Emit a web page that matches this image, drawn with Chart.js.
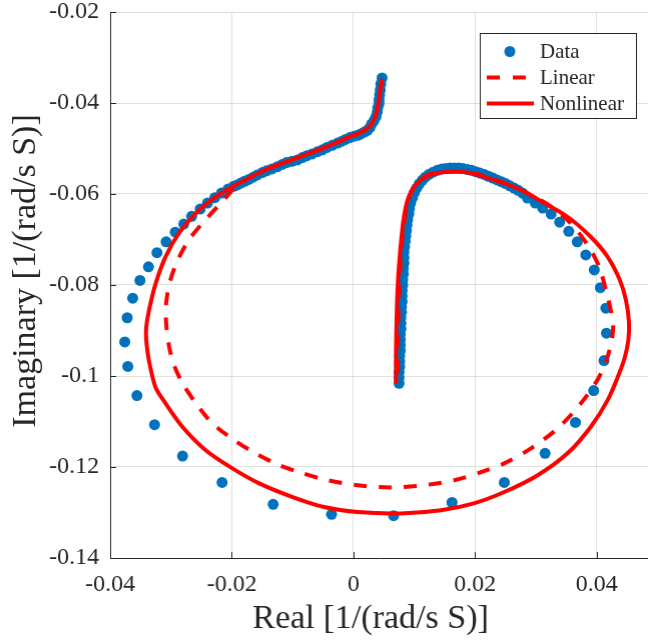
<!DOCTYPE html>
<html>
<head>
<meta charset="utf-8">
<script src="https://cdn.jsdelivr.net/npm/chart.js@4.4.0/dist/chart.umd.min.js"></script>
<style>
html, body { margin: 0; padding: 0; background: #fff; overflow: hidden; }
#wrap { width: 648px; height: 641px; position: relative; }
</style>
</head>
<body>
<div id="wrap"><canvas id="grafica"></canvas></div>
<script>
const xTicks = [-0.04, -0.02, 0, 0.02, 0.04];
const yTicks = [-0.14, -0.12, -0.1, -0.08, -0.06, -0.04, -0.02];

// measured data: vertical branch, hump, sparse loop, S-curve
const dataReal = [
    0.0075, 0.0075, 0.0075, 0.0076, 0.0076, 0.0076, 0.0077, 0.0077, 0.0077, 0.0077,
    0.0078, 0.0078, 0.0078, 0.0079, 0.0079, 0.0080, 0.0080, 0.0080, 0.0081, 0.0081,
    0.0082, 0.0082, 0.0083, 0.0083, 0.0083, 0.0084, 0.0085, 0.0086, 0.0087, 0.0088,
    0.0089, 0.0091, 0.0092, 0.0094, 0.0097, 0.0100, 0.0104, 0.0108, 0.0113, 0.0118,
    0.0124, 0.0131, 0.0138, 0.0145, 0.0152, 0.0159, 0.0166, 0.0173, 0.0180, 0.0187,
    0.0194, 0.0201, 0.0208, 0.0215, 0.0222, 0.0229, 0.0236, 0.0243, 0.0250, 0.0257,
    0.0264, 0.0271, 0.0278,
    0.0286, 0.0299, 0.0311, 0.0325, 0.0339, 0.0354, 0.0368, 0.0382, 0.0396, 0.0406,
    0.0415, 0.0416, 0.0412, 0.0395, 0.0365, 0.0315, 0.0248, 0.0162, 0.0066, -0.0036,
    -0.0132, -0.0216, -0.0281, -0.0327, -0.0356, -0.0371, -0.0376, -0.0372, -0.0363, -0.0351,
    -0.0337, -0.0323, -0.0308, -0.0293, -0.0279, -0.0266, -0.0252, -0.0240, -0.0228, -0.0217,
    -0.0206,
    -0.0197, -0.0191, -0.0185, -0.0179, -0.0172, -0.0165, -0.0158, -0.0150, -0.0143, -0.0134,
    -0.0125, -0.0117, -0.0110, -0.0101, -0.0092, -0.0084, -0.0077, -0.0068, -0.0059, -0.0051,
    -0.0044, -0.0035, -0.0026, -0.0019, -0.0013, -0.0006, 0.0001, 0.0007, 0.0012, 0.0018,
    0.0023, 0.0027, 0.0030, 0.0034, 0.0037, 0.0039, 0.0040, 0.0042, 0.0042, 0.0043,
    0.0044, 0.0045, 0.0047
];
const dataImag = [
    -0.1016, -0.1004, -0.0992, -0.0980, -0.0968, -0.0956, -0.0944, -0.0932, -0.0920, -0.0908,
    -0.0896, -0.0884, -0.0872, -0.0860, -0.0848, -0.0836, -0.0824, -0.0812, -0.0800, -0.0788,
    -0.0776, -0.0764, -0.0752, -0.0740, -0.0728, -0.0716, -0.0704, -0.0692, -0.0680, -0.0668,
    -0.0656, -0.0644, -0.0632, -0.0620, -0.0608, -0.0597, -0.0587, -0.0578, -0.0570, -0.0563,
    -0.0557, -0.0552, -0.0548, -0.0545, -0.0544, -0.0543, -0.0543, -0.0543, -0.0544, -0.0546,
    -0.0548, -0.0551, -0.0554, -0.0557, -0.0561, -0.0565, -0.0569, -0.0573, -0.0577, -0.0582,
    -0.0587, -0.0592, -0.0598,
    -0.0609, -0.0620, -0.0631, -0.0644, -0.0662, -0.0682, -0.0705, -0.0734, -0.0767, -0.0806,
    -0.0851, -0.0906, -0.0966, -0.1032, -0.1102, -0.1170, -0.1234, -0.1278, -0.1307, -0.1304,
    -0.1282, -0.1234, -0.1176, -0.1107, -0.1043, -0.0979, -0.0925, -0.0872, -0.0829, -0.0790,
    -0.0760, -0.0729, -0.0705, -0.0684, -0.0666, -0.0649, -0.0633, -0.0620, -0.0608, -0.0598,
    -0.0589,
    -0.0583, -0.0580, -0.0576, -0.0572, -0.0568, -0.0563, -0.0558, -0.0553, -0.0549, -0.0545,
    -0.0540, -0.0535, -0.0531, -0.0528, -0.0525, -0.0520, -0.0516, -0.0512, -0.0507, -0.0503,
    -0.0498, -0.0493, -0.0488, -0.0484, -0.0480, -0.0476, -0.0473, -0.0471, -0.0468, -0.0464,
    -0.0460, -0.0454, -0.0446, -0.0438, -0.0430, -0.0420, -0.0410, -0.0401, -0.0393, -0.0382,
    -0.0371, -0.0358, -0.0345
];

const linearReal = [
    0.0047, 0.0044, 0.0042, 0.0039, 0.0035, 0.0029, 0.0019, 0.0007, -0.0006, -0.0021,
    -0.0037, -0.0057, -0.0077, -0.0097, -0.0116, -0.0136, -0.0156, -0.0176,
    -0.0190, -0.0212, -0.0240, -0.0268, -0.0287, -0.0301, -0.0308, -0.0308, -0.0303, -0.0295,
    -0.0281, -0.0259, -0.0232, -0.0196, -0.0161, -0.0122, -0.0088, -0.0043, 0.0007, 0.0061,
    0.0116, 0.0166, 0.0206, 0.0248, 0.0292, 0.0336, 0.0374, 0.0401, 0.0415, 0.0423,
    0.0427, 0.0424, 0.0418, 0.0404, 0.0385, 0.0357, 0.0325, 0.0286, 0.0242, 0.0193,
    0.0155, 0.0122, 0.0100, 0.0089, 0.0081, 0.0077, 0.0075, 0.0073, 0.0073
];
const linearImag = [
    -0.0347, -0.0371, -0.0393, -0.0415, -0.0432, -0.0448, -0.0459, -0.0468, -0.0474, -0.0483,
    -0.0492, -0.0503, -0.0513, -0.0523, -0.0532, -0.0542, -0.0554, -0.0568,
    -0.0578, -0.0611, -0.0652, -0.0696, -0.0740, -0.0789, -0.0840, -0.0884, -0.0936, -0.0976,
    -0.1016, -0.1060, -0.1104, -0.1141, -0.1170, -0.1196, -0.1212, -0.1229, -0.1240, -0.1245,
    -0.1240, -0.1229, -0.1213, -0.1192, -0.1159, -0.1115, -0.1060, -0.1009, -0.0969, -0.0932,
    -0.0894, -0.0861, -0.0826, -0.0760, -0.0712, -0.0664, -0.0628, -0.0598, -0.0573, -0.0553,
    -0.0551, -0.0558, -0.0583, -0.0620, -0.0686, -0.0760, -0.0833, -0.0906, -0.1016
];

const nonlinearReal = [
    0.0047, 0.0044, 0.0042, 0.0039, 0.0035, 0.0029, 0.0019, 0.0007, -0.0006, -0.0021,
    -0.0037, -0.0057, -0.0077, -0.0097, -0.0116, -0.0136, -0.0156, -0.0176, -0.0199, -0.0227,
    -0.0259, -0.0287, -0.0309, -0.0325, -0.0336, -0.0341, -0.0339, -0.0333, -0.0325, -0.0309,
    -0.0281, -0.0243, -0.0199, -0.0155, -0.0100, -0.0048, 0.0007, 0.0078, 0.0144, 0.0198,
    0.0248, 0.0303, 0.0352, 0.0390, 0.0418, 0.0437, 0.0446, 0.0452, 0.0453, 0.0448,
    0.0438, 0.0418, 0.0390, 0.0352, 0.0314, 0.0275, 0.0231, 0.0188, 0.0155, 0.0127,
    0.0105, 0.0091, 0.0083, 0.0077, 0.0073, 0.0071, 0.0070, 0.0070
];
const nonlinearImag = [
    -0.0347, -0.0371, -0.0393, -0.0415, -0.0432, -0.0448, -0.0459, -0.0468, -0.0474, -0.0483,
    -0.0492, -0.0503, -0.0513, -0.0523, -0.0532, -0.0542, -0.0554, -0.0568, -0.0584, -0.0607,
    -0.0642, -0.0686, -0.0738, -0.0796, -0.0855, -0.0899, -0.0943, -0.0987, -0.1026, -0.1060,
    -0.1112, -0.1163, -0.1203, -0.1236, -0.1266, -0.1288, -0.1299, -0.1302, -0.1295, -0.1280,
    -0.1255, -0.1218, -0.1170, -0.1112, -0.1053, -0.0994, -0.0960, -0.0921, -0.0881, -0.0833,
    -0.0789, -0.0738, -0.0694, -0.0650, -0.0620, -0.0591, -0.0569, -0.0553, -0.0551, -0.0558,
    -0.0576, -0.0606, -0.0650, -0.0723, -0.0796, -0.0870, -0.0943, -0.1016
];

const toPoints = (xs, ys) => xs.map((x, i) => ({ x: x, y: ys[i] }));

const axisColor = "#262626";
const gridColor = "rgba(0,0,0,0.12)";
const serif = '"Liberation Serif", "Times New Roman", serif';

function formatTick(v) {
    return Number(Number(v).toFixed(2)).toString();
}

const extras = {
    id: "extras",
    beforeDatasetsDraw(chart) {
        const ctx = chart.ctx;
        const a = chart.chartArea;
        const xs = chart.scales.x;
        const ys = chart.scales.y;
        ctx.save();
        ctx.strokeStyle = axisColor;
        ctx.lineWidth = 1;
        ctx.beginPath();
        xTicks.forEach(v => {
            const px = Math.round(xs.getPixelForValue(v)) + 0.5;
            ctx.moveTo(px, a.bottom);
            ctx.lineTo(px, a.bottom - 6);
        });
        yTicks.forEach(v => {
            const py = Math.round(ys.getPixelForValue(v)) + 0.5;
            ctx.moveTo(a.left, py);
            ctx.lineTo(a.left + 6, py);
        });
        ctx.stroke();
        ctx.restore();
    },
    afterDraw(chart) {
        const ctx = chart.ctx;
        ctx.save();
        // axis titles
        ctx.fillStyle = axisColor;
        ctx.font = "34px " + serif;
        ctx.textAlign = "center";
        ctx.textBaseline = "middle";
        ctx.fillText("Real [1/(rad/s S)]", 370, 619);
        ctx.save();
        ctx.translate(26, 271);
        ctx.rotate(-Math.PI / 2);
        ctx.fillText("Imaginary [1/(rad/s S)]", 0, 0);
        ctx.restore();

        // legend
        ctx.fillStyle = "#ffffff";
        ctx.fillRect(479.5, 33.5, 156, 85);
        ctx.strokeStyle = axisColor;
        ctx.lineWidth = 1;
        ctx.strokeRect(479.5, 33.5, 156, 85);

        ctx.fillStyle = "#0072BD";
        ctx.beginPath();
        ctx.arc(509, 51.5, 5.5, 0, Math.PI * 2);
        ctx.fill();

        ctx.strokeStyle = "#FF0000";
        ctx.lineWidth = 4;
        ctx.setLineDash([13, 13]);
        ctx.beginPath();
        ctx.moveTo(486, 77.5);
        ctx.lineTo(533, 77.5);
        ctx.stroke();
        ctx.setLineDash([]);
        ctx.beginPath();
        ctx.moveTo(486, 103.5);
        ctx.lineTo(533, 103.5);
        ctx.stroke();

        ctx.fillStyle = axisColor;
        ctx.font = "21px " + serif;
        ctx.textAlign = "left";
        ctx.fillText("Data", 539, 52);
        ctx.fillText("Linear", 539, 78);
        ctx.fillText("Nonlinear", 539, 104);
        ctx.restore();
    }
};

function iniciarGrafica() {
    const ctx = document.getElementById("grafica").getContext("2d");
    const chart = new Chart(ctx, {
        type: "scatter",
        data: {
            datasets: [{
                label: "Data",
                data: toPoints(dataReal, dataImag),
                backgroundColor: "#0072BD",
                borderWidth: 0,
                pointRadius: 5.5,
                showLine: false,
                order: 3
            }, {
                label: "Linear",
                data: toPoints(linearReal, linearImag),
                borderColor: "#FF0000",
                borderWidth: 4,
                borderDash: [13, 12],
                pointRadius: 0,
                showLine: true,
                tension: 0.3,
                order: 2
            }, {
                label: "Nonlinear",
                data: toPoints(nonlinearReal, nonlinearImag),
                borderColor: "#FF0000",
                borderWidth: 4,
                pointRadius: 0,
                showLine: true,
                tension: 0.3,
                order: 1
            }]
        },
        options: {
            responsive: true,
            maintainAspectRatio: false,
            animation: false,
            devicePixelRatio: 1,
            layout: { padding: { top: 12, right: 0, left: 0, bottom: 0 } },
            plugins: {
                legend: { display: false },
                tooltip: { enabled: false }
            },
            scales: {
                x: {
                    type: "linear",
                    min: -0.04,
                    max: 0.0486,
                    afterBuildTicks: s => { s.ticks = xTicks.map(v => ({ value: v })); },
                    afterFit: s => {
                        s.height = 83;
                        s.paddingLeft = 0;
                        s.paddingRight = 0;
                    },
                    grid: { color: gridColor, drawTicks: false },
                    border: { color: axisColor, width: 1 },
                    ticks: {
                        padding: 12,
                        color: axisColor,
                        font: { family: serif, size: 24 },
                        callback: formatTick,
                        maxRotation: 0
                    }
                },
                y: {
                    type: "linear",
                    min: -0.14,
                    max: -0.02,
                    afterBuildTicks: s => { s.ticks = yTicks.map(v => ({ value: v })); },
                    afterFit: s => {
                        s.width = 110;
                        s.paddingTop = 0;
                        s.paddingBottom = 0;
                    },
                    grid: { color: gridColor, drawTicks: false },
                    border: { color: axisColor, width: 1 },
                    ticks: {
                        padding: 11,
                        color: axisColor,
                        font: { family: serif, size: 24 },
                        callback: formatTick
                    }
                }
            }
        },
        plugins: [extras]
    });

    // the plot runs off the right edge in the original, so widen the canvas if needed
    const falta = 648 - chart.chartArea.right;
    if (falta > 0.5) {
        document.getElementById("wrap").style.width = (648 + falta) + "px";
        chart.resize();
    }
}

document.addEventListener("DOMContentLoaded", iniciarGrafica);
</script>
</body>
</html>
